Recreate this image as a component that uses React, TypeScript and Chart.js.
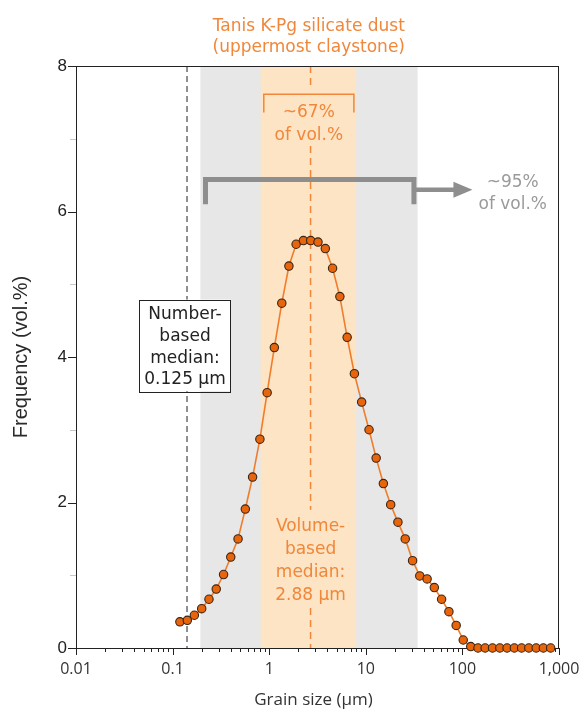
import { useEffect, useRef } from "react";
import { Chart, registerables } from "chart.js";
Chart.register(...registerables);

// Grain-size bins (µm) and volume frequency (vol.%)
const grainSize = [0.119, 0.142, 0.168, 0.2, 0.238, 0.283, 0.337, 0.4, 0.476, 0.566, 0.673, 0.801, 0.952, 1.13, 1.35, 1.6, 1.9, 2.26, 2.69, 3.2, 3.81, 4.53, 5.39, 6.41, 7.62, 9.06, 10.8, 12.8, 15.2, 18.1, 21.5, 25.6, 30.5, 36.2, 43.1, 51.2, 60.9, 72.5, 86.2, 102, 122, 145, 172, 205, 244, 290, 345, 410, 487, 580, 689, 820];
const frequency = [0.36, 0.38, 0.45, 0.54, 0.67, 0.81, 1.01, 1.25, 1.5, 1.91, 2.35, 2.87, 3.51, 4.13, 4.74, 5.25, 5.55, 5.6, 5.6, 5.58, 5.49, 5.22, 4.83, 4.27, 3.77, 3.38, 3.0, 2.61, 2.26, 1.97, 1.73, 1.5, 1.2, 0.99, 0.95, 0.83, 0.67, 0.5, 0.31, 0.11, 0.02, 0, 0, 0, 0, 0, 0, 0, 0, 0, 0, 0];

const xTickValues = [0.01, 0.1, 1, 10, 100, 1000];
const xTickLabels = ["0.01", "0.1", "1", "10", "100", "1,000"];
const yTickValues = [0, 2, 4, 6, 8];
const yMinorTicks = [1, 3, 5, 7];

// Annotation values (data units)
const grayBand = [0.194, 34.4];
const orangeBand = [0.815, 7.94];
const numberMedianLine = 0.141;
const volumeMedianLine = 2.68;
const grayBracket = { x0: 0.219, x1: 31.5, yTop: 6.44, yLeg: 6.1, arrowY: 6.3, arrowTip: 127 };
const orangeBracket = { x0: 0.879, x1: 7.53, yTop: 7.61, yLeg: 7.36 };

const titleLines = ["Tanis K-Pg silicate dust", "(uppermost claystone)"];
const orangePctLines = ["~67%", "of vol.%"];
const grayPctLines = ["~95%", "of vol.%"];
const volumeMedianLines = ["Volume-", "based", "median:", "2.88 µm"];
const numberMedianLines = ["Number-", "based", "median:", "0.125 µm"];

const ORANGE_TEXT = "#f0873a";
const ANNO_FONT = '17px "DejaVu Sans"';

const overlay = {
  id: "overlay",
  beforeDatasetsDraw(chart: any) {
    const { ctx, chartArea: a, scales } = chart;
    const X = (v: number) => scales.x.getPixelForValue(v);
    const Y = (v: number) => scales.y.getPixelForValue(v);
    ctx.save();
    // bands
    ctx.fillStyle = "#e7e7e7";
    ctx.fillRect(X(grayBand[0]), a.top, X(grayBand[1]) - X(grayBand[0]), a.bottom - a.top);
    ctx.fillStyle = "#fde4c5";
    ctx.fillRect(X(orangeBand[0]), a.top, X(orangeBand[1]) - X(orangeBand[0]), a.bottom - a.top);
    // number median dashed line
    ctx.strokeStyle = "#555";
    ctx.lineWidth = 1.3;
    ctx.setLineDash([6, 4]);
    ctx.beginPath();
    ctx.moveTo(X(numberMedianLine), a.top);
    ctx.lineTo(X(numberMedianLine), a.bottom);
    ctx.stroke();
    // volume median dashed line (segments between labels)
    ctx.strokeStyle = "#f0873a";
    ctx.lineWidth = 1.5;
    ctx.setLineDash([7, 5]);
    const vx = X(volumeMedianLine);
    const segs = [[8, 7.68], [6.9, 1.9], [0.55, 0]];
    for (const [s, e] of segs) {
      ctx.beginPath();
      ctx.moveTo(vx, Y(s));
      ctx.lineTo(vx, Y(e));
      ctx.stroke();
    }
    ctx.setLineDash([]);
    // frame
    ctx.strokeStyle = "#222";
    ctx.lineWidth = 1;
    ctx.strokeRect(a.left + 0.5, a.top + 0.5, a.right - a.left - 1, a.bottom - a.top);
    // x ticks
    ctx.beginPath();
    for (let e = -2; e <= 3; e++) {
      for (let m = 1; m <= 9; m++) {
        const v = m * Math.pow(10, e);
        if (v > 1000) break;
        const px = Math.round(X(v)) + 0.5;
        const len = m === 1 ? 7 : 4;
        ctx.moveTo(px, a.bottom);
        ctx.lineTo(px, a.bottom + len);
      }
    }
    // y ticks
    for (const v of yTickValues) {
      const p = Math.round(Y(v)) + 0.5;
      ctx.moveTo(a.left, p);
      ctx.lineTo(a.left - 8, p);
    }
    ctx.stroke();
    ctx.strokeStyle = "#c8c8c8";
    ctx.beginPath();
    for (const v of yMinorTicks) {
      const p = Math.round(Y(v)) + 0.5;
      ctx.moveTo(a.left, p);
      ctx.lineTo(a.left - 6, p);
    }
    ctx.stroke();
    ctx.restore();
  },
  afterDatasetsDraw(chart: any) {
    const { ctx, chartArea: a, scales } = chart;
    const X = (v: number) => scales.x.getPixelForValue(v);
    const Y = (v: number) => scales.y.getPixelForValue(v);
    ctx.save();
    ctx.textAlign = "center";
    ctx.textBaseline = "middle";
    // title
    ctx.font = ANNO_FONT;
    ctx.fillStyle = ORANGE_TEXT;
    titleLines.forEach((t, i) => ctx.fillText(t, X(2.57), 27 + i * 20.5));
    // orange bracket
    ctx.strokeStyle = ORANGE_TEXT;
    ctx.lineWidth = 1.5;
    ctx.beginPath();
    ctx.moveTo(X(orangeBracket.x0), Y(orangeBracket.yLeg));
    ctx.lineTo(X(orangeBracket.x0), Y(orangeBracket.yTop));
    ctx.lineTo(X(orangeBracket.x1), Y(orangeBracket.yTop));
    ctx.lineTo(X(orangeBracket.x1), Y(orangeBracket.yLeg));
    ctx.stroke();
    orangePctLines.forEach((t, i) => ctx.fillText(t, X(2.57), Y(7.36) + i * 23));
    // gray bracket
    ctx.strokeStyle = "#8e8e8e";
    ctx.lineWidth = 5;
    ctx.beginPath();
    ctx.moveTo(X(grayBracket.x0), Y(grayBracket.yLeg));
    ctx.lineTo(X(grayBracket.x0), Y(grayBracket.yTop));
    ctx.lineTo(X(grayBracket.x1), Y(grayBracket.yTop));
    ctx.lineTo(X(grayBracket.x1), Y(grayBracket.yLeg));
    ctx.stroke();
    const tipX = X(grayBracket.arrowTip);
    const ay = Y(grayBracket.arrowY);
    ctx.lineWidth = 4.5;
    ctx.beginPath();
    ctx.moveTo(X(grayBracket.x1), ay);
    ctx.lineTo(tipX - 16, ay);
    ctx.stroke();
    ctx.fillStyle = "#8e8e8e";
    ctx.beginPath();
    ctx.moveTo(tipX, ay);
    ctx.lineTo(tipX - 19, ay - 8);
    ctx.lineTo(tipX - 19, ay + 8);
    ctx.closePath();
    ctx.fill();
    ctx.fillStyle = "#9a9a9a";
    grayPctLines.forEach((t, i) => ctx.fillText(t, X(332), Y(6.4) + i * 22));
    // volume median label
    ctx.fillStyle = ORANGE_TEXT;
    volumeMedianLines.forEach((t, i) => ctx.fillText(t, X(volumeMedianLine), Y(1.67) + i * 23));
    // number median box
    const bx0 = X(0.0453), bx1 = X(0.399), by0 = Y(4.79), by1 = Y(3.53);
    ctx.fillStyle = "#fff";
    ctx.fillRect(bx0, by0, bx1 - bx0, by1 - by0);
    ctx.strokeStyle = "#222";
    ctx.lineWidth = 1;
    ctx.strokeRect(Math.round(bx0) + 0.5, Math.round(by0) + 0.5, Math.round(bx1 - bx0), Math.round(by1 - by0));
    ctx.fillStyle = "#222";
    numberMedianLines.forEach((t, i) => ctx.fillText(t, (bx0 + bx1) / 2, Y(4.58) + i * 21.7));
    // axis titles
    ctx.fillStyle = "#333";
    ctx.font = '17px "Open Sans"';
    ctx.fillText("Grain size (µm)", (a.left + a.right) / 2 - 4, 700);
    ctx.save();
    ctx.translate(21, (a.top + a.bottom) / 2);
    ctx.rotate(-Math.PI / 2);
    ctx.font = '20px "Liberation Sans"';
    ctx.fillStyle = "#2a2a2a";
    ctx.fillText("Frequency (vol.%)", 0, 0);
    ctx.restore();
    ctx.restore();
  },
};

export default function App() {
  const ref = useRef<HTMLCanvasElement>(null);
  useEffect(() => {
    const chart = new Chart(ref.current!, {
      type: "scatter",
      data: {
        datasets: [
          {
            data: grainSize.map((g, i) => ({ x: g, y: frequency[i] })),
            showLine: true,
            borderColor: "#f07d2c",
            borderWidth: 1.6,
            pointRadius: 4.2,
            pointBackgroundColor: "#e8650c",
            pointBorderColor: "#3a2414",
            pointBorderWidth: 1.1,
            clip: false,
          } as any,
        ],
      },
      options: {
        responsive: false,
        animation: false,
        events: [],
        layout: { padding: { top: 66, right: 25, left: 0, bottom: 0 } },
        plugins: { legend: { display: false }, tooltip: { enabled: false } },
        scales: {
          x: {
            type: "logarithmic",
            min: 0.01,
            max: 1000,
            grid: { display: false, drawTicks: false },
            border: { display: false },
            afterBuildTicks: (s: any) => {
              s.ticks = xTickValues.map((v) => ({ value: v }));
            },
            afterFit: (s: any) => {
              s.height = 70;
              s.paddingLeft = 0;
              s.paddingRight = 0;
            },
            ticks: {
              autoSkip: false,
              maxRotation: 0,
              padding: 12,
              color: "#333",
              font: { family: "Open Sans", size: 16 },
              callback: (_v: any, i: number) => xTickLabels[i],
            },
          },
          y: {
            min: 0,
            max: 8,
            grid: { display: false, drawTicks: false },
            border: { display: false },
            afterBuildTicks: (s: any) => {
              s.ticks = yTickValues.map((v) => ({ value: v }));
            },
            afterFit: (s: any) => {
              s.width = 76;
              s.paddingTop = 0;
              s.paddingBottom = 0;
            },
            ticks: {
              padding: 9,
              color: "#222",
              font: { family: "Liberation Sans", size: 17 },
            },
          },
        },
      },
      plugins: [overlay],
    });
    return () => chart.destroy();
  }, []);
  return (
    <div style={{ position: "absolute", left: 0, top: 0, width: 584, height: 718 }}>
      <canvas ref={ref} width={584} height={718} />
    </div>
  );
}
